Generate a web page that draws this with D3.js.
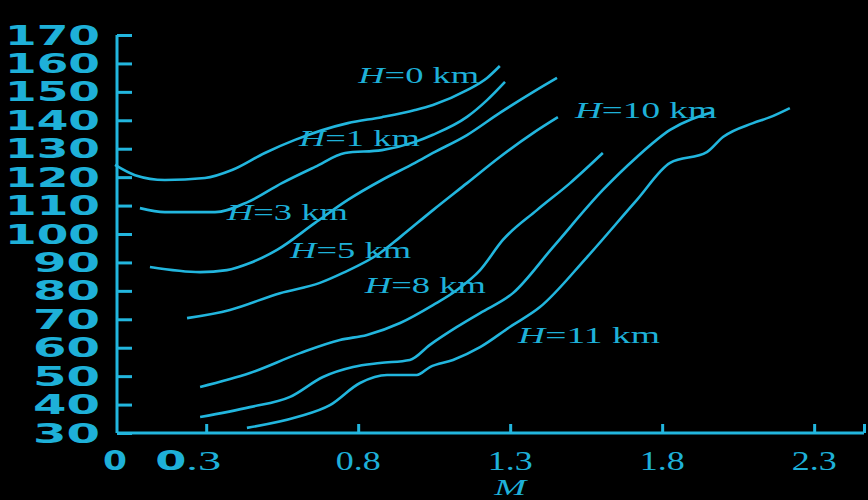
<!DOCTYPE html>
<html>
<head>
<meta charset="utf-8">
<script src="https://cdn.jsdelivr.net/npm/d3@7"></script>
<style>
  html, body { margin: 0; padding: 0; background: #000; }
  svg { display: block; }
</style>
</head>
<body>
<div id="chart"></div>
<script>
// values: [M, speed]
const h0 = [[0, 124.3], [0.066, 120.7], [0.164, 119.0], [0.296, 119.7], [0.385, 122.5], [0.493, 128.5],
  [0.592, 133.1], [0.766, 139.0], [0.878, 141.1], [0.987, 143.6], [1.046, 145.4], [1.158, 150.6],
  [1.224, 154.9], [1.266, 159.1]];
const h1 = [[0.082, 109.1], [0.164, 107.7], [0.329, 107.7], [0.438, 111.3], [0.549, 117.9], [0.658, 123.6],
  [0.757, 128.5], [0.878, 129.5], [0.987, 132.4], [1.046, 134.9], [1.158, 141.2], [1.224, 147.1], [1.283, 153.5]];
const h3 = [[0.115, 88.4], [0.280, 86.6], [0.368, 87.3], [0.444, 89.8], [0.533, 94.4], [0.658, 103.9],
  [0.766, 112.0], [0.878, 119.0], [0.987, 125.0], [1.046, 128.5], [1.158, 134.8], [1.266, 142.6],
  [1.375, 149.9], [1.454, 154.9]];
const h5 = [[0.237, 70.4], [0.378, 73.3], [0.543, 79.2], [0.674, 82.8], [0.750, 86.3], [0.872, 93.3],
  [0.938, 98.9], [1.046, 108.4], [1.158, 117.9], [1.266, 127.1], [1.375, 135.5], [1.457, 141.1]];
const h8 = [[0.280, 46.2], [0.444, 51.1], [0.609, 58.1], [0.740, 62.7], [0.829, 64.5], [0.938, 68.7],
  [1.046, 75.0], [1.125, 80.3], [1.201, 87.3], [1.276, 97.9], [1.388, 108.4], [1.497, 117.9], [1.605, 128.5]];
const h10 = [[0.280, 35.6], [0.444, 39.1], [0.576, 42.7], [0.684, 49.7], [0.783, 53.2], [0.872, 54.6],
  [0.970, 55.7], [1.036, 61.0], [1.125, 67.3], [1.201, 72.2], [1.309, 79.2], [1.441, 95.4], [1.605, 115.5],
  [1.717, 127.1], [1.826, 136.6], [1.967, 142.9]];
const h11 = [[0.434, 31.8], [0.599, 35.6], [0.707, 39.8], [0.806, 47.6], [0.895, 50.4], [0.993, 50.4],
  [1.036, 53.2], [1.112, 55.7], [1.201, 60.2], [1.299, 67.3], [1.398, 74.3], [1.553, 91.9], [1.717, 112.0],
  [1.826, 125.0], [1.947, 128.8], [2.000, 134.1], [2.099, 139.0], [2.155, 141.1], [2.220, 144.3]];

const curves = [h0, h1, h3, h5, h8, h10, h11];

// curve labels: altitude text and where it sits [M, speed]
const labelText = ["0", "1", "3", "5", "8", "10", "11"];
const labelAt = [[0.80, 153.1], [0.605, 131.0], [0.368, 104.9], [0.576, 91.5], [0.822, 79.1], [1.513, 140.9], [1.326, 61.6]];

const yTicks = [30, 40, 50, 60, 70, 80, 90, 100, 110, 120, 130, 140, 150, 160, 170];
const xTicks = [0.3, 0.8, 1.3, 1.8, 2.3];

const width = 868;
const height = 500;
const COLOR = "#22b6de";
const TEXT_COLOR = "#1eb0d8";

const x = d3.scaleLinear().domain([0, 2.464]).range([115, 864]);
const y = d3.scaleLinear().domain([30, 170]).range([433, 35]);

const svg = d3.select("#chart").append("svg")
  .attr("width", width)
  .attr("height", height)
  .style("background", "#000");

// y axis, ticks point inward
const yAxis = svg.append("g")
  .attr("transform", "translate(117,0)")
  .call(d3.axisRight(y).tickValues(yTicks).tickSize(15).tickFormat(""));
yAxis.select(".domain").attr("d", `M0,${y(170)}V${y(30)}`);

// x axis, ticks point up
const xAxis = svg.append("g")
  .attr("transform", "translate(0,433)")
  .call(d3.axisTop(x).tickValues(xTicks.concat([2.464])).tickSize(9).tickFormat(""));
xAxis.select(".domain").attr("d", `M117,0H${x(2.464)}`);

svg.selectAll(".domain, .tick line")
  .attr("stroke", COLOR)
  .attr("stroke-width", 3);

// y tick labels (wide bold digits)
svg.append("g")
  .selectAll("text")
  .data(yTicks)
  .enter()
  .append("text")
  .attr("x", 100)
  .attr("y", (d) => y(d) + 9.5)
  .attr("text-anchor", "end")
  .attr("textLength", (d) => (d >= 100 ? 95 : 67))
  .attr("lengthAdjust", "spacingAndGlyphs")
  .style("font-family", "'DejaVu Sans', sans-serif")
  .style("font-weight", "bold")
  .style("font-size", "26px")
  .style("fill", TEXT_COLOR)
  .text((d) => d);

// x tick labels
svg.append("text")
  .attr("x", x(0))
  .attr("y", 470)
  .attr("text-anchor", "middle")
  .attr("textLength", 24)
  .attr("lengthAdjust", "spacingAndGlyphs")
  .style("font-family", "'DejaVu Sans', sans-serif")
  .style("font-weight", "bold")
  .style("font-size", "27px")
  .style("fill", TEXT_COLOR)
  .text("0");

const xLabels = svg.append("g")
  .selectAll("text")
  .data(xTicks)
  .enter()
  .append("text")
  .attr("x", (d) => x(d) + (d === 0.3 ? -18 : 0))
  .attr("y", 470)
  .attr("text-anchor", "middle")
  .attr("textLength", (d) => (d === 0.3 ? 66 : 45))
  .attr("lengthAdjust", "spacingAndGlyphs")
  .style("font-family", "'Liberation Serif', serif")
  .style("font-size", "28px")
  .style("fill", TEXT_COLOR);

xLabels.append("tspan")
  .style("font-family", (d) => (d === 0.3 ? "'DejaVu Sans', sans-serif" : null))
  .style("font-weight", (d) => (d === 0.3 ? "bold" : null))
  .style("font-size", (d) => (d === 0.3 ? "27px" : null))
  .text((d) => d3.format(".1f")(d).split(".")[0]);
xLabels.append("tspan")
  .text((d) => "." + d3.format(".1f")(d).split(".")[1]);

// axis title
svg.append("text")
  .attr("x", x(1.3))
  .attr("y", 495)
  .attr("text-anchor", "middle")
  .attr("textLength", 32)
  .attr("lengthAdjust", "spacingAndGlyphs")
  .style("font-family", "'Liberation Serif', serif")
  .style("font-style", "italic")
  .style("font-size", "24px")
  .style("fill", TEXT_COLOR)
  .text("M");

// curves
const line = d3.line()
  .x((d) => x(d[0]))
  .y((d) => y(d[1]))
  .curve(d3.curveMonotoneX);

svg.append("g")
  .selectAll("path")
  .data(curves)
  .enter()
  .append("path")
  .attr("d", line)
  .attr("fill", "none")
  .attr("stroke", COLOR)
  .attr("stroke-width", 2.6)
  .attr("stroke-linejoin", "round");

// curve labels
const labels = svg.append("g")
  .selectAll("text")
  .data(labelText)
  .enter()
  .append("text")
  .attr("x", (d, i) => x(labelAt[i][0]))
  .attr("y", (d, i) => y(labelAt[i][1]))
  .attr("textLength", (d) => (d.length > 1 ? 142 : 121))
  .attr("lengthAdjust", "spacingAndGlyphs")
  .style("font-family", "'Liberation Serif', serif")
  .style("font-size", "24px")
  .style("fill", TEXT_COLOR);

labels.append("tspan").style("font-style", "italic").text("H");
labels.append("tspan").text((d) => "=" + d + " km");
</script>
</body>
</html>
